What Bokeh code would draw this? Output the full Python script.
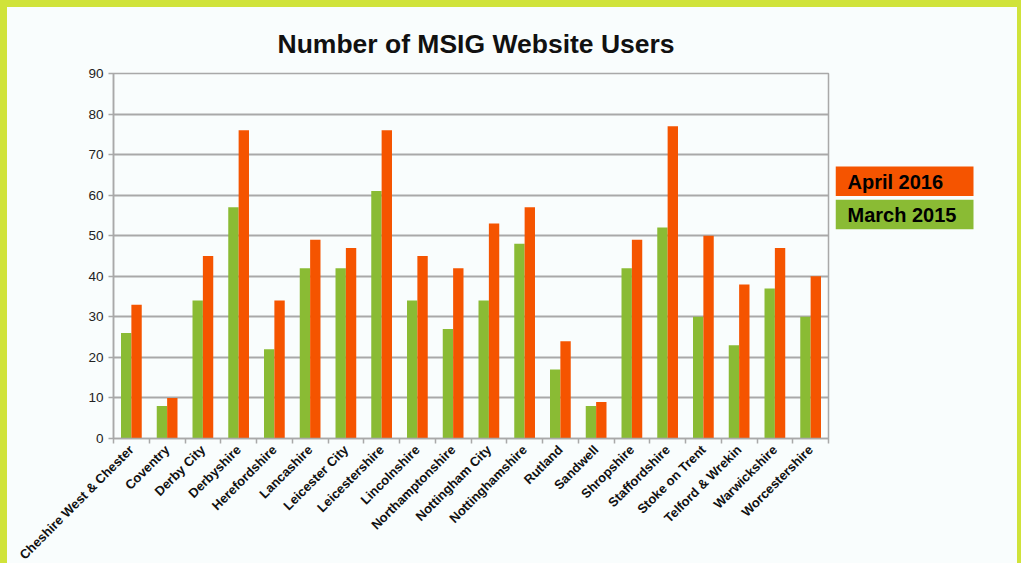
from math import pi
from bokeh.plotting import figure
from bokeh.models import (FactorRange, Range1d, LinearAxis, CategoricalAxis, FixedTicker,
                          ColumnDataSource, Title, Grid, CustomJSTickFormatter)
from bokeh.core.properties import value
from bokeh.transform import dodge
from bokeh.layouts import column, row
from bokeh.embed import file_html
from bokeh.resources import INLINE

# ---- data ----
areas = ["Cheshire West & Chester", "Coventry", "Derby City", "Derbyshire", "Herefordshire",
         "Lancashire", "Leicester City", "Leicestershire", "Lincolnshire", "Northamptonshire",
         "Nottingham City", "Nottinghamshire", "Rutland", "Sandwell", "Shropshire",
         "Staffordshire", "Stoke on Trent", "Telford & Wrekin", "Warwickshire", "Worcestershire"]
march_2015 = [26, 8, 34, 57, 22, 42, 42, 61, 34, 27, 34, 48, 17, 8, 42, 52, 30, 23, 37, 30]
april_2016 = [33, 10, 45, 76, 34, 49, 47, 76, 45, 42, 53, 57, 24, 9, 49, 77, 50, 38, 47, 40]
y_ticks = [0, 10, 20, 30, 40, 50, 60, 70, 80, 90]
series_names = ["April 2016", "March 2015"]
title_text = "Number of MSIG Website Users"

# ---- style ----
GREEN = "#8abb34"
ORANGE = "#f55400"
BG = "#f9fdfd"
FRAME_GREEN = "#d0e33a"
GRID = "#a9a9a9"
FONT = "Liberation Sans"

src = ColumnDataSource(dict(area=areas, march=march_2015, april=april_2016))

fig = figure(x_range=FactorRange(*areas), y_range=Range1d(0, 90),
             frame_width=715, frame_height=365,
             output_backend="svg", toolbar_location=None,
             x_axis_location=None, y_axis_location=None,
             min_border_left=106, min_border_right=7, min_border_top=66, min_border_bottom=20,
             background_fill_color=BG, border_fill_color=BG,
             outline_line_color=GRID, outline_line_width=1.5)

# remove default grids
fig.center = [r for r in fig.center if not isinstance(r, Grid)]
fig.add_layout(Grid(dimension=1, ticker=FixedTicker(ticks=y_ticks),
                    grid_line_color=GRID, grid_line_width=1.8))

fig.vbar(x=dodge("area", -0.145, range=fig.x_range), top="march", width=0.29,
         source=src, fill_color=GREEN, line_color=None)
fig.vbar(x=dodge("area", 0.145, range=fig.x_range), top="april", width=0.29,
         source=src, fill_color=ORANGE, line_color=None)

# y axis
yaxis = LinearAxis(ticker=FixedTicker(ticks=y_ticks))
yaxis.major_tick_out = 5
yaxis.major_tick_in = 0
yaxis.minor_tick_out = 0
yaxis.axis_line_color = GRID
yaxis.axis_line_width = 1.5
yaxis.major_tick_line_color = GRID
yaxis.major_tick_line_width = 1.5
yaxis.major_label_text_font = FONT
yaxis.major_label_text_font_size = "13.5px"
yaxis.major_label_text_color = "#222222"
yaxis.major_label_standoff = 5
fig.add_layout(yaxis, "left")

# boundary tick marks between categories (synthetic categorical coordinates)
tick_axis = LinearAxis(ticker=FixedTicker(ticks=list(range(len(areas) + 1))),
                       formatter=CustomJSTickFormatter(code="return ''"))
tick_axis.major_tick_out = 5
tick_axis.major_tick_in = 0
tick_axis.minor_tick_out = 0
tick_axis.axis_line_color = GRID
tick_axis.axis_line_width = 1.5
tick_axis.major_tick_line_color = GRID
tick_axis.major_tick_line_width = 1.5
tick_axis.major_label_standoff = 0
fig.add_layout(tick_axis, "below")

# category labels axis
cat_axis = CategoricalAxis()
cat_axis.major_tick_out = 0
cat_axis.major_tick_in = 0
cat_axis.axis_line_color = None
cat_axis.major_label_orientation = pi / 4
cat_axis.major_label_text_font = FONT
cat_axis.major_label_text_font_style = "bold"
cat_axis.major_label_text_font_size = "13px"
cat_axis.major_label_text_color = "#111111"
cat_axis.major_label_standoff = 4
fig.add_layout(cat_axis, "below")

# title
fig.title = Title(text=title_text, align="left", offset=164, standoff=30,
                  text_font=FONT, text_font_style="bold", text_font_size="26.5px",
                  text_color="#111111")

# legend panel: frame shares the main frame's vertical extent;
# ranges expressed in page pixels (x from left, y from top)
leg = figure(frame_width=182, frame_height=365,
             x_range=Range1d(835, 1017), y_range=Range1d(438, 73),
             output_backend="svg", toolbar_location=None,
             x_axis_location=None, y_axis_location=None,
             min_border=0, background_fill_color=BG, border_fill_color=BG,
             outline_line_color=None)
leg.grid.visible = False
leg_src = ColumnDataSource(dict(name=series_names, color=[ORANGE, GREEN],
                                top=[166.0, 199.3], bottom=[195.5, 228.7],
                                ty=[181.0, 214.3]))
leg.quad(left=835, right=973, top="top", bottom="bottom", fill_color="color",
         line_color=None, source=leg_src)
leg.text(x=847, y="ty", text="name", source=leg_src, text_font=value(FONT),
         text_font_style="bold", text_font_size="20px", text_baseline="middle",
         text_color="#000000")

body = row(fig, leg, margin=(7, 4, 0, 7), styles={"background-color": BG})
p = column(body, width=1021, height=563,
           styles={"background-color": FRAME_GREEN, "overflow": "hidden"})
open("out.html", "w").write(file_html(p, INLINE))
